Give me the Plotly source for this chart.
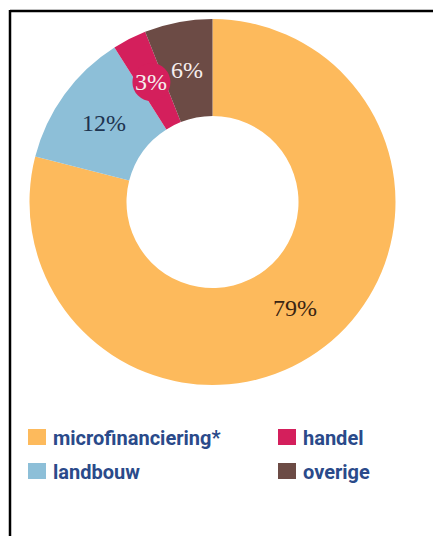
import math
import plotly.graph_objects as go

# ---- data ----
categories = ["microfinanciering*", "landbouw", "handel", "overige"]
values = [79, 12, 3, 6]
colors = ["#FDBA5C", "#8DBFD8", "#D41F5C", "#6C4B45"]
label_colors = ["#3A2412", "#1E3450", "#F6EEEE", "#F6EEEE"]
legend_rows = [["microfinanciering*", "handel"], ["landbouw", "overige"]]

W, H = 433, 536
CX, CY, R = 212.5, 202.0, 183.0
HOLE = 0.47

fig = go.Figure()
fig.add_trace(go.Pie(
    labels=categories, values=values, sort=False, direction="clockwise",
    rotation=0, hole=HOLE, textinfo="none", hoverinfo="label+percent",
    marker=dict(colors=colors, line=dict(width=0)),
    showlegend=False,
    domain=dict(x=[(CX - R) / W, (CX + R) / W], y=[1 - (CY + R) / H, 1 - (CY - R) / H]),
))

annotations = []
shapes = []
total = sum(values)
cum = 0.0
rl = R * (1 + HOLE) / 2
for cat, v, lc in zip(categories, values, label_colors):
    mid = (cum + v / 2) / total * 2 * math.pi
    cum += v
    px = CX + rl * math.sin(mid)
    py = CY - rl * math.cos(mid)
    if v / total < 0.05:
        br = 19
        shapes.append(dict(type="circle", xref="paper", yref="paper",
                           x0=(px - br) / W, x1=(px + br) / W,
                           y0=1 - (py + br) / H, y1=1 - (py - br) / H,
                           fillcolor=colors[categories.index(cat)], line=dict(width=0)))
    annotations.append(dict(x=px / W, y=1 - py / H, xref="paper", yref="paper",
                            xanchor="center", yanchor="middle",
                            text=f"{v}%", showarrow=False,
                            font=dict(family="Liberation Serif, DejaVu Serif, serif",
                                      size=24, color=lc)))

# legend built from category lists
col_x = [28, 278]
row_y = [437, 471]
for ri, row in enumerate(legend_rows):
    for ci, cat in enumerate(row):
        c = colors[categories.index(cat)]
        x0 = col_x[ci]
        y0 = row_y[ri]
        shapes.append(dict(type="rect", xref="paper", yref="paper",
                           x0=x0 / W, x1=(x0 + 18) / W,
                           y0=1 - (y0 + 8) / H, y1=1 - (y0 - 8) / H,
                           fillcolor=c, line=dict(width=0)))
        annotations.append(dict(x=(x0 + 23) / W, y=1 - (y0 + 1) / H, xref="paper", yref="paper",
                                xanchor="left", yanchor="middle", text=cat, showarrow=False,
                                font=dict(family="Roboto, Liberation Sans, sans-serif",
                                          size=20, color="#2A4A8A", weight="bold")))

# frame
shapes.append(dict(type="line", xref="paper", yref="paper", x0=10 / W, x1=10 / W,
                   y0=1 - 10 / H, y1=-0.05, line=dict(color="black", width=2.5)))
shapes.append(dict(type="line", xref="paper", yref="paper", x0=10 / W, x1=1.05,
                   y0=1 - 11 / H, y1=1 - 11 / H, line=dict(color="black", width=2.5)))

fig.update_layout(
    width=W, height=H, margin=dict(l=0, r=0, t=0, b=0),
    paper_bgcolor="white", plot_bgcolor="white",
    shapes=shapes, annotations=annotations,
)
fig.write_html("out.html", config={"displayModeBar": False},
               post_script="document.body.style.margin='0px';")
